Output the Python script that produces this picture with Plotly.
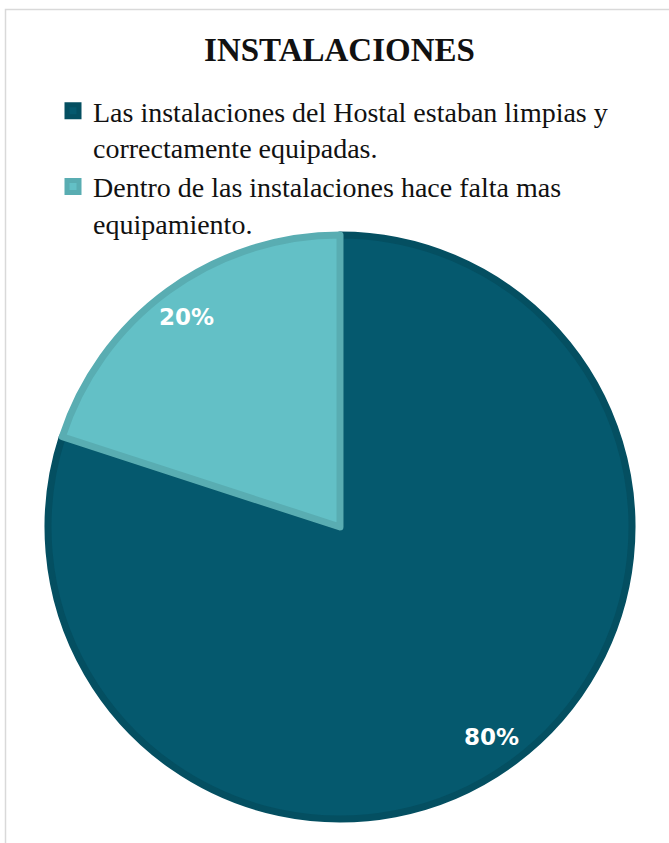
import math
import plotly.graph_objects as go

labels = [
    "Las instalaciones del Hostal estaban limpias y<br>correctamente equipadas.",
    "Dentro de las instalaciones hace falta mas<br>equipamiento.",
]
values = [80, 20]
fill_colors = ["#05596e", "#63c0c6"]
line_colors = ["#044f61", "#59adb2"]
title_text = "INSTALACIONES"

W, H = 669, 843
cx, cy, R = 340, 527, 292  # pie centre / radius in pixels

fig = go.Figure(
    go.Pie(
        labels=labels,
        values=values,
        sort=False,
        direction="clockwise",
        rotation=0,
        marker=dict(colors=fill_colors, line=dict(color=line_colors, width=7)),
        textinfo="none",
        hoverinfo="label+percent",
        domain=dict(x=[(cx - R) / W, (cx + R) / W], y=[1 - (cy + R) / H, 1 - (cy - R) / H]),
    )
)

# percentage labels positioned from the data (mid-angle of each slice)
total = sum(values)
cum = 0
annotations = []
for v in values:
    mid = (cum + v / 2) / total * 2 * math.pi  # clockwise from 12 o'clock
    cum += v
    r = 0.89 * R
    px = cx + r * math.sin(mid) - 1
    py = cy - r * math.cos(mid)
    annotations.append(
        dict(
            x=px / W, y=1 - py / H, xref="paper", yref="paper",
            text=f"<b>{round(v / total * 100)}%</b>", showarrow=False,
            font=dict(family="DejaVu Sans", size=23, color="white"),
            xanchor="center", yanchor="middle",
        )
    )

fig.update_layout(
    width=W, height=H,
    margin=dict(l=0, r=0, t=0, b=0),
    paper_bgcolor="white",
    plot_bgcolor="white",
    title=dict(
        text=f"<b>{title_text}</b>",
        x=339.5 / W, xanchor="center", xref="paper",
        y=1 - 49 / H, yanchor="middle", yref="paper",
        font=dict(family="Liberation Serif", size=33, color="#111111"),
    ),
    legend=dict(
        x=53 / W, xanchor="left",
        y=1 - 86 / H, yanchor="top",
        font=dict(family="Liberation Serif", size=28, color="#111111"),
        bgcolor="rgba(0,0,0,0)",
        traceorder="normal",
        valign="top",
        tracegroupgap=0,
    ),
    annotations=annotations,
    shapes=[
        dict(type="rect", xref="paper", yref="paper",
             x0=5.5 / W, x1=1.02, y0=-0.02, y1=1 - 9.5 / H,
             line=dict(color="#d9d9d9", width=1.5), fillcolor="rgba(0,0,0,0)",
             layer="below"),
    ],
)

fig.write_html("out.html")
